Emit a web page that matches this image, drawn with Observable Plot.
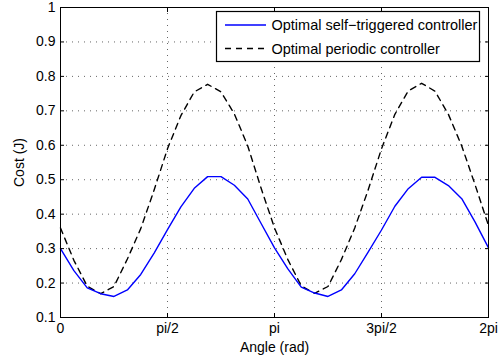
<!DOCTYPE html>
<html><head><meta charset="utf-8">
<script src="https://cdn.jsdelivr.net/npm/d3@7"></script>
<script src="https://cdn.jsdelivr.net/npm/@observablehq/plot@0.6"></script>
<style>
html,body{margin:0;padding:0;background:#fff;}
#wrap{position:relative;width:503px;height:360px;font-family:"Liberation Sans",Arial,Helvetica,sans-serif;}
#legend{position:absolute;left:215px;top:10px;}
</style></head><body><div id="wrap"></div>
<script>
// ---- data ----
const seriesNames = ["Optimal self\u2212triggered controller", "Optimal periodic controller"];
const selfTriggered = [0.300, 0.236, 0.186, 0.169, 0.161, 0.180, 0.225, 0.287, 0.355, 0.421, 0.475, 0.509, 0.509, 0.484, 0.444, 0.373, 0.302,
                       0.241, 0.188, 0.171, 0.161, 0.180, 0.227, 0.290, 0.354, 0.423, 0.474, 0.507, 0.507, 0.483, 0.445, 0.377, 0.302];
const periodic = [0.360, 0.266, 0.191, 0.169, 0.190, 0.270, 0.358, 0.470, 0.590, 0.686, 0.755, 0.777, 0.755, 0.691, 0.598, 0.475, 0.360,
                  0.268, 0.192, 0.170, 0.190, 0.268, 0.360, 0.470, 0.590, 0.690, 0.758, 0.780, 0.757, 0.690, 0.598, 0.485, 0.367];
const angleStep = Math.PI / 16; // sampling grid of the angle axis
const xTickValues = [0, Math.PI / 2, Math.PI, 3 * Math.PI / 2, 2 * Math.PI];
const xTickLabels = ["0", "pi/2", "pi", "3pi/2", "2pi"];
const yTickValues = [0.1, 0.2, 0.3, 0.4, 0.5, 0.6, 0.7, 0.8, 0.9, 1];
const yTickLabels = ["0.1", "0.2", "0.3", "0.4", "0.5", "0.6", "0.7", "0.8", "0.9", "1"];
const xLabel = "Angle (rad)";
const yLabel = "Cost (J)";

// ---- styles ----
const blue = "#0000ff";
const dash = "6,5";
const lineW = 1.4;
const gridStyle = {stroke: "#555", strokeOpacity: 0.9, strokeDasharray: "1,5"};
const font = "'Liberation Sans', Arial, Helvetica, sans-serif";

const rows = [];
selfTriggered.forEach((v, i) => rows.push({series: seriesNames[0], angle: i * angleStep, cost: v}));
periodic.forEach((v, i) => rows.push({series: seriesNames[1], angle: i * angleStep, cost: v}));

const chart = Plot.plot({
  width: 503,
  height: 360,
  marginLeft: 60,
  marginRight: 15,
  marginTop: 7,
  marginBottom: 43,
  style: {fontFamily: font, fontSize: "14px", color: "#000", background: "#fff"},
  x: {domain: [0, 2 * Math.PI]},
  y: {domain: [0.1, 1]},
  marks: [
    Plot.gridX(xTickValues, gridStyle),
    Plot.gridY(yTickValues, gridStyle),
    Plot.line(rows.filter(d => d.series === seriesNames[1]), {x: "angle", y: "cost", stroke: "#000", strokeWidth: lineW, strokeDasharray: dash}),
    Plot.line(rows.filter(d => d.series === seriesNames[0]), {x: "angle", y: "cost", stroke: blue, strokeWidth: lineW}),
    Plot.frame({stroke: "#000", strokeWidth: 1}),
    Plot.axisX(xTickValues, {anchor: "bottom", tickSize: 4, insetBottom: 4, tickPadding: 6,
      tickFormat: (d, i) => xTickLabels[i], label: xLabel, labelAnchor: "center", labelOffset: 34, labelArrow: "none"}),
    Plot.axisX(xTickValues, {anchor: "top", tickSize: 4, insetTop: 4, tickFormat: () => "", label: null}),
    Plot.axisY(yTickValues, {anchor: "left", tickSize: 4, insetLeft: 4, tickPadding: 5,
      tickFormat: (d, i) => yTickLabels[i], label: yLabel, labelAnchor: "center", labelOffset: 46, labelArrow: "none"}),
    Plot.axisY(yTickValues, {anchor: "right", tickSize: 4, insetRight: 4, tickFormat: () => "", label: null})
  ]
});
const wrap = document.getElementById("wrap");
wrap.appendChild(chart);

// ---- legend (inside the axes, top right) ----
const ns = "http://www.w3.org/2000/svg";
const lg = document.createElementNS(ns, "svg");
lg.setAttribute("id", "legend");
lg.setAttribute("width", 266);
lg.setAttribute("height", 53);
const box = document.createElementNS(ns, "rect");
Object.entries({x: 1.5, y: 1.5, width: 263, height: 50, fill: "#fff", stroke: "#000", "stroke-width": 1.2}).forEach(([k, v]) => box.setAttribute(k, v));
lg.appendChild(box);
const legendItems = [
  {name: seriesNames[0], stroke: blue, dash: null, y: 15},
  {name: seriesNames[1], stroke: "#000", dash: dash, y: 38.5}
];
legendItems.forEach(it => {
  const l = document.createElementNS(ns, "line");
  Object.entries({x1: 10, x2: 51, y1: it.y, y2: it.y, stroke: it.stroke, "stroke-width": lineW}).forEach(([k, v]) => l.setAttribute(k, v));
  if (it.dash) l.setAttribute("stroke-dasharray", it.dash);
  lg.appendChild(l);
  const t = document.createElementNS(ns, "text");
  t.setAttribute("x", 56.5);
  t.setAttribute("y", it.y);
  t.setAttribute("dy", "0.35em");
  t.setAttribute("font-size", "14.5px");
  t.setAttribute("font-family", font);
  t.textContent = it.name;
  lg.appendChild(t);
});
wrap.appendChild(lg);
</script>
</body></html>
